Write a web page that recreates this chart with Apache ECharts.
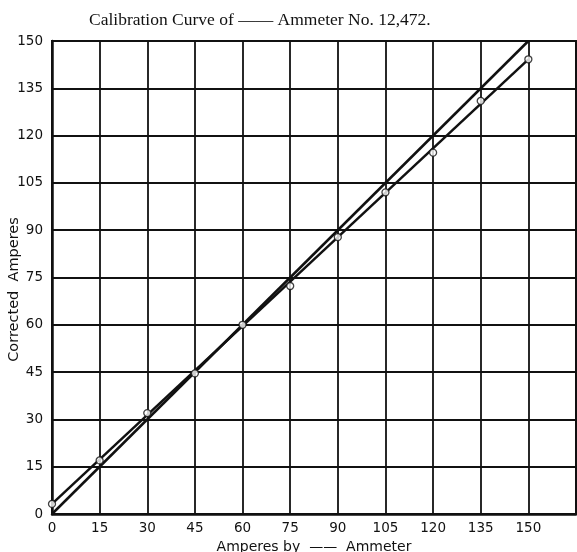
<!DOCTYPE html>
<html>
<head>
<meta charset="utf-8">
<style>
  html, body { margin: 0; padding: 0; background: #fff; }
  #chart { width: 577px; height: 552px; }
</style>
<script src="https://cdn.jsdelivr.net/npm/echarts@6/dist/echarts.min.js"></script>
</head>
<body>
<div id="chart"></div>
<script>
// Ammeter readings (x) and the corrected current found for each (y)
const ammeterReadings = [0, 15, 30, 45, 60, 75, 90, 105, 120, 135, 150];
const correctedAmperes = [3.2, 17, 32, 44.6, 60, 72.3, 87.8, 102, 114.6, 131, 144.2];

// Reference line: reading equals true current
const idealX = [0, 150];
const idealY = [0, 150];

// Drawn calibration line through the observations
const curveX = [0, 150];
const curveY = [3.2, 144.2];

// Axis ticks
const xTicks = [0, 15, 30, 45, 60, 75, 90, 105, 120, 135, 150];
const yTicks = [0, 15, 30, 45, 60, 75, 90, 105, 120, 135, 150];

const titleText = 'Calibration Curve of —— Ammeter No. 12,472.';
const xName = 'Amperes by  ——  Ammeter';
const yName = 'Corrected  Amperes';

const zip = (xs, ys) => xs.map((x, i) => [x, ys[i]]);
const labelFont = '"DejaVu Sans", Lato, sans-serif';

const chart = echarts.init(document.getElementById('chart'), null, { renderer: 'canvas' });
chart.setOption({
  animation: false,
  backgroundColor: '#ffffff',
  title: {
    text: titleText,
    left: 84,
    top: 6,
    textStyle: {
      fontFamily: '"Liberation Serif", "DejaVu Serif", serif',
      fontSize: 17.5,
      fontWeight: 'normal',
      color: '#111'
    }
  },
  grid: {
    left: 52, right: 1, top: 41, bottom: 38,
    show: true, borderColor: '#111', borderWidth: 2,
    outerBoundsMode: 'none',
    containLabel: false
  },
  xAxis: {
    type: 'value',
    min: 0, max: 165, interval: 15,
    name: xName,
    nameLocation: 'middle',
    nameGap: 26,
    nameMoveOverlap: false,
    nameTextStyle: { fontFamily: labelFont, fontSize: 14, color: '#111' },
    axisLine: { show: true, onZero: false, lineStyle: { color: '#111', width: 2.5 } },
    axisTick: { show: false },
    axisLabel: {
      margin: 7, fontFamily: labelFont, fontSize: 13.5, color: '#111',
      formatter: v => (xTicks.indexOf(v) >= 0 ? String(v) : '')
    },
    splitLine: { show: true, lineStyle: { color: '#111', width: 1.8 } }
  },
  yAxis: {
    type: 'value',
    min: 0, max: 150, interval: 15,
    name: yName,
    nameLocation: 'middle',
    nameGap: 30,
    nameMoveOverlap: false,
    nameTextStyle: { fontFamily: labelFont, fontSize: 14.5, color: '#111', padding: [0, 24, 0, 0] },
    axisLine: { show: true, onZero: false, lineStyle: { color: '#111', width: 2.5 } },
    axisTick: { show: false },
    axisLabel: {
      margin: 9, fontFamily: labelFont, fontSize: 13.5, color: '#111',
      formatter: v => (yTicks.indexOf(v) >= 0 ? String(v) : '')
    },
    splitLine: { show: true, lineStyle: { color: '#111', width: 1.8 } }
  },
  series: [
    {
      name: 'ideal',
      type: 'line',
      data: zip(idealX, idealY),
      symbol: 'none',
      lineStyle: { color: '#111', width: 2.5 },
      z: 3
    },
    {
      name: 'calibration',
      type: 'line',
      data: zip(curveX, curveY),
      symbol: 'none',
      lineStyle: { color: '#111', width: 2.5 },
      z: 3
    },
    {
      name: 'observations',
      type: 'scatter',
      data: zip(ammeterReadings, correctedAmperes),
      symbol: 'circle',
      symbolSize: 7,
      itemStyle: { color: '#ffffff', borderColor: '#111', borderWidth: 1.3 },
      z: 5
    }
  ]
});
</script>
</body>
</html>
